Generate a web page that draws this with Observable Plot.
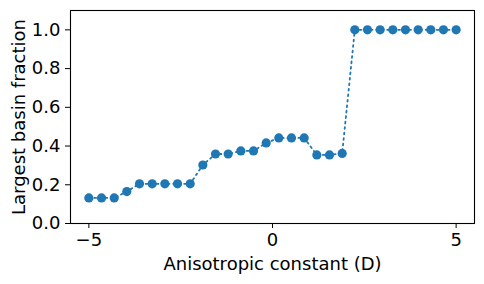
<!DOCTYPE html>
<html>
<head>
<meta charset="utf-8">
<script src="https://cdn.jsdelivr.net/npm/d3@7"></script>
<script src="https://cdn.jsdelivr.net/npm/@observablehq/plot@0.6"></script>
<style>
  html, body { margin: 0; padding: 0; background: white; }
  #chart svg { display: block; }
</style>
</head>
<body>
<div id="chart"></div>
<script>
const anisotropy = [-5, -4.655, -4.310, -3.966, -3.621, -3.276, -2.931, -2.586, -2.241, -1.897,
  -1.552, -1.207, -0.862, -0.517, -0.172, 0.172, 0.517, 0.862, 1.207, 1.552,
  1.897, 2.241, 2.586, 2.931, 3.276, 3.621, 3.966, 4.310, 4.655, 5];
const basinFraction = [0.132, 0.132, 0.132, 0.165, 0.205, 0.205, 0.205, 0.205, 0.205, 0.302,
  0.359, 0.359, 0.375, 0.375, 0.416, 0.442, 0.442, 0.442, 0.354, 0.354,
  0.362, 1.0, 1.0, 1.0, 1.0, 1.0, 1.0, 1.0, 1.0, 1.0];
const xTicks = [-5, 0, 5];
const yTicks = [0, 0.2, 0.4, 0.6, 0.8, 1.0];
const xLabel = "Anisotropic constant (D)";
const yLabel = "Largest basin fraction";

const data = anisotropy.map((x, i) => ({x, y: basinFraction[i]}));
const color = "#1f77b4";
const fmtX = d => d < 0 ? "\u2212" + (-d) : String(d);

const chart = Plot.plot({
  width: 484,
  height: 284,
  marginLeft: 70,
  marginRight: 10,
  marginTop: 10,
  marginBottom: 61,
  style: {fontFamily: "DejaVu Sans", fontSize: "18px", color: "black", background: "white"},
  x: {domain: [-5.5, 5.5]},
  y: {domain: [0, 1.1]},
  marks: [
    Plot.axisX({ticks: xTicks, tickFormat: fmtX, tickSize: 5, tickPadding: 5, fontSize: 18, label: null}),
    Plot.axisY({ticks: yTicks, tickFormat: d3.format(".1f"), tickSize: 5, tickPadding: 5, fontSize: 18, label: null}),
    Plot.text([xLabel], {text: d => d, frameAnchor: "bottom", textAnchor: "middle", lineAnchor: "top", dy: 34, fontSize: 18, fill: "black"}),
    Plot.text([yLabel], {text: d => d, frameAnchor: "left", textAnchor: "middle", rotate: -90, lineAnchor: "top", dx: -58, fontSize: 18, fill: "black"}),
    Plot.line(data, {x: "x", y: "y", stroke: color, strokeWidth: 1.8, strokeDasharray: "1.8,3.7"}),
    Plot.dot(data, {x: "x", y: "y", r: 4.6, fill: color, stroke: "none"}),
    Plot.frame({stroke: "black", strokeWidth: 1.1})
  ]
});
document.getElementById("chart").appendChild(chart);
</script>
</body>
</html>
